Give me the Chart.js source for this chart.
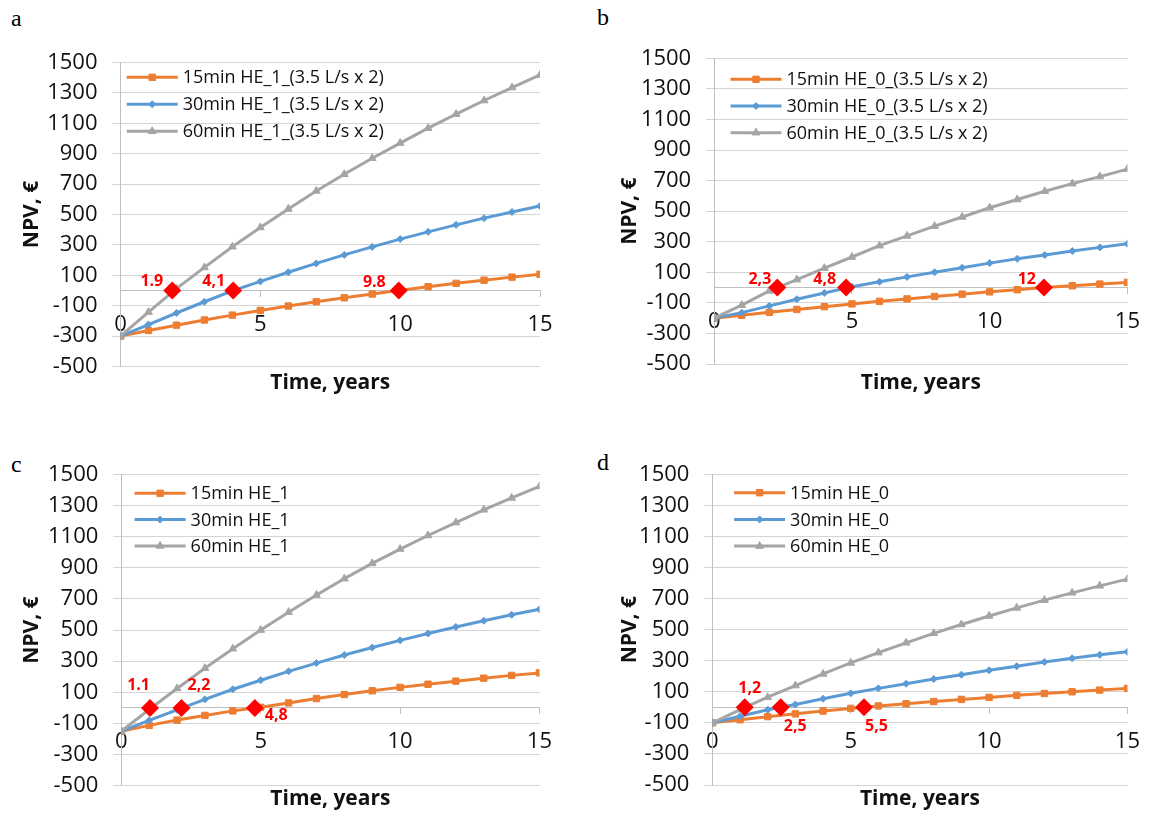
<!DOCTYPE html>
<html>
<head>
<meta charset="utf-8">
<script src="https://cdn.jsdelivr.net/npm/chart.js@4.4.1/dist/chart.umd.min.js"></script>
<style>
  html, body { margin: 0; background: #fff; }
  body { width: 1155px; height: 814px; position: relative; overflow: hidden; }
  canvas { position: absolute; }
  .tag { position: absolute; font: 24px "Liberation Serif", serif; line-height: 1; color: #000; }
</style>
</head>
<body>
<div class="tag" style="left:11px;top:6px">a</div>
<div class="tag" style="left:597px;top:5px">b</div>
<div class="tag" style="left:11px;top:452px">c</div>
<div class="tag" style="left:597px;top:450px">d</div>
<canvas id="panelA" width="577" height="407" style="left:0;top:0"></canvas>
<canvas id="panelB" width="578" height="407" style="left:577px;top:0"></canvas>
<canvas id="panelC" width="577" height="407" style="left:0;top:407px"></canvas>
<canvas id="panelD" width="578" height="407" style="left:577px;top:407px"></canvas>
<script>
// time axis, years
const years = [0, 1, 2, 3, 4, 5, 6, 7, 8, 9, 10, 11, 12, 13, 14, 15];

// a: HE_1 with 3.5 L/s x 2
const npvA15 = [-300, -263, -228, -194, -162, -131, -102, -74, -48, -23, 2, 25, 47, 68, 88, 107];
const npvA30 = [-300, -224, -148, -74, -2, 60, 120, 178, 234, 287, 338, 386, 432, 476, 517, 556];
const npvA60 = [-300, -142, 12, 152, 288, 415, 537, 655, 765, 870, 970, 1068, 1160, 1250, 1335, 1418];
const paybackA = [1.85, 4.03, 9.95];
const paybackTextA = ["1.9", "4,1", "9.8"];

// b: HE_0 with 3.5 L/s x 2
const npvB15 = [-200, -181, -162, -143, -125, -107, -90, -74, -58, -43, -28, -14, 0, 12, 23, 34];
const npvB30 = [-200, -164, -120, -76, -35, 5, 38, 70, 100, 130, 160, 188, 213, 239, 263, 286];
const npvB60 = [-200, -115, -22, 52, 127, 200, 274, 338, 402, 462, 522, 576, 630, 680, 726, 775];
const paybackB = [2.29, 4.79, 11.97];
const paybackTextB = ["2,3", "4,8", "12"];

// c: HE_1
const npvC15 = [-150, -112, -78, -48, -19, 4, 32, 60, 86, 110, 132, 152, 172, 191, 209, 225];
const npvC30 = [-150, -80, -12, 55, 120, 178, 235, 288, 340, 388, 434, 478, 520, 560, 598, 633];
const npvC60 = [-150, -10, 125, 255, 380, 500, 615, 725, 830, 928, 1020, 1107, 1190, 1272, 1348, 1422];
const paybackC = [1.03, 2.16, 4.79];
const paybackTextC = ["1.1", "2,2", "4,8"];

// d: HE_0
const npvD15 = [-100, -80, -60, -42, -24, -7, 9, 23, 37, 51, 64, 77, 89, 100, 111, 122];
const npvD30 = [-100, -57, -16, 18, 55, 90, 122, 152, 182, 210, 238, 265, 292, 316, 338, 358];
const npvD60 = [-100, -15, 65, 140, 215, 286, 352, 415, 476, 533, 588, 640, 690, 737, 782, 825];
const paybackD = [1.17, 2.47, 5.48];
const paybackTextD = ["1,2", "2,5", "5,5"];

const namesA = ["15min HE_1_(3.5 L/s x 2)", "30min HE_1_(3.5 L/s x 2)", "60min HE_1_(3.5 L/s x 2)"];
const namesB = ["15min HE_0_(3.5 L/s x 2)", "30min HE_0_(3.5 L/s x 2)", "60min HE_0_(3.5 L/s x 2)"];
const namesC = ["15min HE_1", "30min HE_1", "60min HE_1"];
const namesD = ["15min HE_0", "30min HE_0", "60min HE_0"];

const yTicks = { min: -500, max: 1500, step: 200 };
const xTicks = { min: 0, max: 15, step: 5 };

const FONT = "'Open Sans', sans-serif";
const TEXT = "#111";
const STYLES = [
  { color: "#ED7D31", pointStyle: "rect", radius: 4.5 },
  { color: "#5B9BD5", pointStyle: "rectRot", radius: 3.5 },
  { color: "#A5A5A5", pointStyle: "triangle", radius: 4.5 }
];

// legend drawn inside the plot: line sample + marker + name
const lineLegend = {
  id: "lineLegend",
  afterDatasetsDraw(chart, args, opts) {
    const { ctx, chartArea } = chart;
    ctx.save();
    ctx.font = "18px " + FONT;
    ctx.textBaseline = "middle";
    let row = 0;
    chart.data.datasets.forEach((ds) => {
      if (!ds.label) return;
      const x0 = chartArea.left + opts.x;
      const y = chartArea.top + opts.y + row * opts.gap;
      ctx.strokeStyle = ds.borderColor;
      ctx.fillStyle = ds.borderColor;
      ctx.lineWidth = 3;
      ctx.beginPath();
      ctx.moveTo(x0, y);
      ctx.lineTo(x0 + 51, y);
      ctx.stroke();
      ctx.lineWidth = 1;
      Chart.helpers.drawPoint(ctx, { pointStyle: ds.pointStyle, radius: ds.pointRadius, rotation: 0, borderWidth: 1 }, x0 + 25.5, y);
      ctx.fillStyle = TEXT;
      ctx.fillText(ds.label, x0 + 56, y + 1);
      row++;
    });
    ctx.restore();
  }
};

// red payback labels next to the diamonds
const paybackLabels = {
  id: "paybackLabels",
  afterDatasetsDraw(chart, args, opts) {
    const meta = chart.getDatasetMeta(3);
    const { ctx } = chart;
    ctx.save();
    ctx.font = "bold 16px " + FONT;
    ctx.fillStyle = "#FF0000";
    ctx.textBaseline = "middle";
    meta.data.forEach((pt, i) => {
      const [dx, dy, align] = opts.place[i];
      ctx.textAlign = align;
      ctx.fillText(opts.texts[i], pt.x + dx, pt.y + dy);
    });
    ctx.restore();
  }
};

// x title sits under the plot, away from the axis drawn at y = 0
const timeTitle = {
  id: "timeTitle",
  afterDraw(chart, args, opts) {
    const { ctx, chartArea } = chart;
    ctx.save();
    ctx.font = "bold 21px " + FONT;
    ctx.fillStyle = TEXT;
    ctx.textAlign = "center";
    ctx.textBaseline = "middle";
    ctx.fillText("Time, years", (chartArea.left + chartArea.right) / 2, opts.y);
    ctx.restore();
  }
};

function panel(id, box, names, series, payback, paybackText, place) {
  const datasets = series.map((values, i) => ({
    label: names[i],
    data: values.map((v, k) => ({ x: years[k], y: v })),
    borderColor: STYLES[i].color,
    backgroundColor: STYLES[i].color,
    borderWidth: 3,
    pointStyle: STYLES[i].pointStyle,
    pointRadius: STYLES[i].radius,
    pointBorderWidth: 1,
    tension: 0,
    order: 3 - i
  }));
  datasets.push({
    data: payback.map((x) => ({ x, y: 0 })),
    showLine: false,
    pointStyle: "rectRot",
    pointRadius: 9,
    pointBorderWidth: 0,
    backgroundColor: "#FF0000",
    borderColor: "#FF0000",
    order: -1
  });

  return new Chart(document.getElementById(id), {
    type: "line",
    data: { datasets },
    options: {
      responsive: false,
      animation: false,
      devicePixelRatio: 1,
      layout: { padding: { left: 0, top: box.top, right: box.right, bottom: box.bottom } },
      plugins: {
        legend: { display: false },
        tooltip: { enabled: false },
        lineLegend: box.legend,
        paybackLabels: { texts: paybackText, place },
        timeTitle: { y: box.xTitleY }
      },
      scales: {
        x: {
          type: "linear",
          position: { y: 0 },
          min: xTicks.min,
          max: xTicks.max,
          ticks: { stepSize: xTicks.step, padding: 15, color: TEXT, font: { size: 22, family: FONT }, callback: (v) => String(v) },
          grid: { drawOnChartArea: false, tickLength: 6, color: "#bfbfbf" },
          border: { color: "#bfbfbf" },
          afterFit(s) { s.height = 0; }
        },
        y: {
          min: yTicks.min,
          max: yTicks.max,
          ticks: { stepSize: yTicks.step, padding: 15, color: TEXT, font: { size: 22, family: FONT }, callback: (v) => String(v) },
          grid: { color: "#d4d4d4", tickLength: 8 },
          border: { color: "#bfbfbf" },
          title: {
            display: true,
            text: "NPV, €",
            color: TEXT,
            font: { size: 21, weight: "bold", family: FONT },
            padding: { top: box.yTitlePad, bottom: 0 }
          },
          afterFit(s) { s.width = box.left; }
        }
      }
    },
    plugins: [lineLegend, paybackLabels, timeTitle]
  });
}

panel("panelA",
  { left: 120.5, top: 62.5, right: 37, bottom: 40.5, yTitlePad: 19, xTitleY: 383, legend: { x: 6.2, y: 14.8, gap: 27 } },
  namesA, [npvA15, npvA30, npvA60], paybackA, paybackTextA,
  [[-9, -9, "right"], [-8, -9, "right"], [-13, -8, "right"]]);

panel("panelB",
  { left: 137.2, top: 58.3, right: 16.3, bottom: 43, yTitlePad: 40.2, xTitleY: 383.3, legend: { x: 16.3, y: 21, gap: 26.7 } },
  namesB, [npvB15, npvB30, npvB60], paybackB, paybackTextB,
  [[-6, -8, "right"], [-10, -8, "right"], [-8, -8, "right"]]);

panel("panelC",
  { left: 121.3, top: 67.3, right: 37.5, bottom: 25.7, yTitlePad: 19, xTitleY: 392.3, legend: { x: 13.3, y: 19, gap: 26.3 } },
  namesC, [npvC15, npvC30, npvC60], paybackC, paybackTextC,
  [[0, -22.5, "right"], [6, -22.5, "left"], [10, 7.5, "left"]]);

panel("panelD",
  { left: 135.4, top: 67.3, right: 16.3, bottom: 29, yTitlePad: 40.2, xTitleY: 392.3, legend: { x: 21.7, y: 18.4, gap: 26.7 } },
  namesD, [npvD15, npvD30, npvD60], paybackD, paybackTextD,
  [[5, -19, "center"], [3, 19.5, "left"], [1, 19.5, "left"]]);
</script>
</body>
</html>
